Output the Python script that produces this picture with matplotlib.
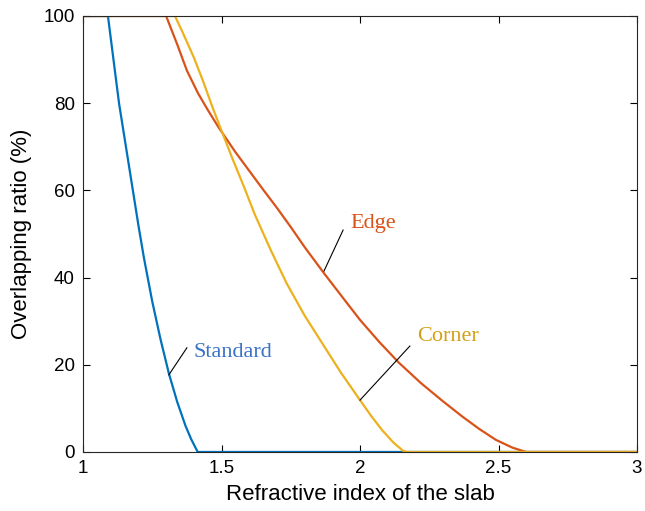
import matplotlib
matplotlib.use("Agg")
import matplotlib.pyplot as plt

# Standard slab
std_n = [1.0, 1.09, 1.11, 1.13, 1.155, 1.18, 1.20, 1.22, 1.25, 1.28,
         1.31, 1.34, 1.37, 1.39, 1.414, 3.0]
std_r = [100, 100, 90, 80, 70, 60, 52, 44.5, 34.5, 25.8,
         18, 11.5, 6, 3, 0, 0]

# Edge
edge_n = [1.0, 1.30, 1.34, 1.375, 1.415, 1.45, 1.49, 1.55, 1.60, 1.65,
          1.70, 1.75, 1.80, 1.87, 1.95, 2.00, 2.07, 2.14, 2.22, 2.30,
          2.37, 2.43, 2.49, 2.55, 2.60, 3.0]
edge_r = [100, 100, 93.5, 87.5, 82.3, 78.5, 74.4, 68.8, 64.5, 60.2,
          56, 51.6, 47, 41, 34.4, 30.3, 25.2, 20.5, 15.8, 11.6,
          8.1, 5.3, 2.8, 1.0, 0, 0]

# Corner
corner_n = [1.0, 1.332, 1.36, 1.40, 1.435, 1.465, 1.495, 1.54, 1.58, 1.62,
            1.68, 1.735, 1.80, 1.856, 1.93, 2.00, 2.04, 2.08, 2.12, 2.155,
            2.17, 3.0]
corner_r = [100, 100, 96.2, 90.5, 84.8, 79.5, 74.5, 67.2, 61, 54.5,
            46, 38.7, 31.3, 25.7, 18.3, 11.9, 8.3, 5.0, 2.2, 0.3,
            0, 0]

blue = "#0072BD"
orange = "#D95319"
yellow = "#EDB120"

plt.rcParams["font.family"] = ["Liberation Sans", "DejaVu Sans"]

fig = plt.figure(figsize=(6.45, 5.11), dpi=100)
ax = fig.add_axes([0.1287, 0.1155, 0.8589, 0.8532])

ax.plot(std_n, std_r, color=blue, lw=1.6)
ax.plot(edge_n, edge_r, color=orange, lw=1.6)
ax.plot(corner_n, corner_r, color=yellow, lw=1.6)

ax.set_xlim(1, 3)
ax.set_ylim(0, 100)
ax.set_xticks([1, 1.5, 2, 2.5, 3])
ax.set_xticklabels(["1", "1.5", "2", "2.5", "3"])
ax.set_yticks([0, 20, 40, 60, 80, 100])
ax.tick_params(direction="in", top=True, right=True, labelsize=13.5,
               length=5, width=0.8, pad=6)
for s in ax.spines.values():
    s.set_linewidth(0.8)
    s.set_color("#262626")

ax.set_xlabel("Refractive index of the slab", fontsize=16, labelpad=5)
ax.set_ylabel("Overlapping ratio (%)", fontsize=16, labelpad=8)

# curve labels with leader lines
serif = ["Liberation Serif", "DejaVu Serif"]
ax.plot([1.31, 1.375], [17.7, 23.9], color="k", lw=0.8)
ax.text(1.40, 22.9, "Standard", color="#3A72C8", fontsize=16,
        family=serif, va="center", ha="left")
ax.plot([1.87, 1.939], [41.5, 50.9], color="k", lw=0.8)
ax.text(1.964, 52.5, "Edge", color=orange, fontsize=16,
        family=serif, va="center", ha="left")
ax.plot([2.0, 2.18], [11.9, 24.3], color="k", lw=0.8)
ax.text(2.206, 26.4, "Corner", color="#D4A017", fontsize=16,
        family=serif, va="center", ha="left")

fig.savefig("out.png", dpi=100)
